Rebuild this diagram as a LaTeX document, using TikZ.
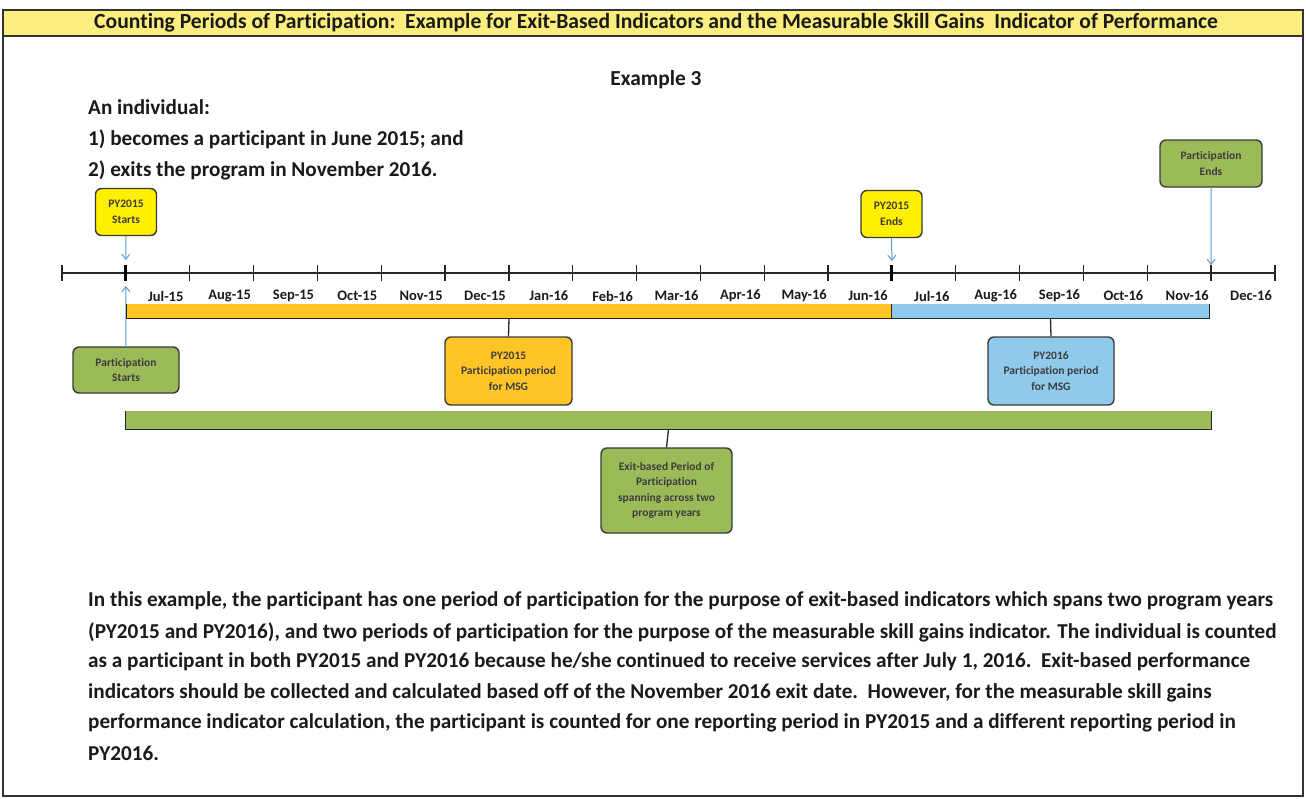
\documentclass[tikz,border=0pt]{standalone}
\usepackage{fontspec}
\setmainfont{Carlito}[Ligatures=NoCommon]
\usetikzlibrary{arrows.meta,calc}
\definecolor{titlefill}{HTML}{FCEE7E}
\definecolor{pyyellow}{HTML}{FFF000}
\definecolor{gold}{HTML}{FFC426}
\definecolor{skyblue}{HTML}{8FCAEA}
\definecolor{olive}{HTML}{9BBB59}
\definecolor{arrowblue}{HTML}{5B9BD5}
\definecolor{boxline}{HTML}{3A3A3A}
\definecolor{txt}{HTML}{1A1A1A}
\tikzset{
  lbl/.style={font=\fontsize{11.5}{15.5}\selectfont\bfseries, text=txt!85, align=center},
  rbox/.style={lbl, draw=boxline, line width=1.4pt, rounded corners=6pt, inner sep=2pt},
  month/.style={font=\fontsize{14.5}{16}\selectfont\bfseries, text=txt, inner sep=0pt},
  body/.style={font=\fontsize{21.2}{24}\selectfont\bfseries, text=txt, inner sep=0pt, anchor=west},
  bar/.style={inner sep=0pt, draw=none},
  brk/.style={draw=black!85, line width=1.3pt},
  arr/.style={draw=arrowblue, line width=1pt, -{Straight Barb[length=5pt,width=8pt]}},
}
\begin{document}
\begin{tikzpicture}[x=1pt,y=-1pt]
\useasboundingbox (0,0) rectangle (1306,798);
% frame and title bar
\fill[titlefill] (3,10) rectangle (1303,36);
\draw[line width=1.6pt, draw=black!80] (3,10) rectangle (1303,796);
\draw[line width=1.4pt, draw=black!80] (3,36) -- (1303,36);
\node[font=\fontsize{21.6}{22}\selectfont\bfseries, text=txt, inner sep=0pt] (title) at (656,23)
  {Counting Periods of Participation:\ \ Example for Exit-Based Indicators and the Measurable Skill Gains\ \ Indicator of Performance};
% intro text
\node[font=\fontsize{21.4}{24}\selectfont\bfseries, text=txt, inner sep=0pt] (ex) at (656,80) {Example 3};
\node[body] (i1) at (88,107) {An individual:};
\node[body] (i2) at (88,139) {1) becomes a participant in June 2015; and};
\node[body] (i3) at (88,170) {2) exits the program in November 2016.};
% timeline
\foreach \i in {0,...,19} {
  \coordinate (t\i) at ({62+\i*63.84},273);
}
\draw[line width=1.5pt, black!85] (t0) -- (t19);
\foreach \i in {0,...,19} {
  \draw[line width=1.3pt, black!85] ([yshift=8pt]t\i) -- ([yshift=-8pt]t\i);
}
\draw[line width=3pt, black] ([yshift=8pt]t1) -- ([yshift=-8pt]t1);
\draw[line width=3pt, black] ([yshift=8pt]t13) -- ([yshift=-8pt]t13);
\foreach \m [count=\i] in {Jul-15,Aug-15,Sep-15,Oct-15,Nov-15,Dec-15,Jan-16,Feb-16,Mar-16,Apr-16,May-16,Jun-16,Jul-16,Aug-16,Sep-16,Oct-16,Nov-16,Dec-16} {
  \node[month] (m\i) at ({62+(\i+0.5)*63.84+8},296) {\m};
}
% top boxes
\node[rbox, fill=pyyellow, minimum width=61pt, minimum height=47pt] (pys) at (126,212) {PY2015\\Starts};
\node[rbox, fill=pyyellow, minimum width=61pt, minimum height=47pt] (pye) at (891.5,214) {PY2015\\Ends};
\node[rbox, fill=olive, minimum width=102pt, minimum height=47pt] (pend) at (1211,163.5) {Participation\\Ends};
\draw[arr] (pys.south) -- ([yshift=13pt]t1);
\draw[arr] (pye.south) -- ([yshift=12pt]t13);
\draw[arr] (pend.south) -- ([yshift=8pt]t18);
% participation starts
\node[rbox, fill=olive, minimum width=106pt, minimum height=46pt] (pst) at (126,370) {Participation\\Starts};
\draw[arr] (pst.north) -- ([yshift=-13pt]t1);
% bars
\node[bar, fill=gold, minimum width=764pt, minimum height=14pt] (yb) at (509,311) {};
\node[bar, fill=skyblue, minimum width=318pt, minimum height=14pt] (bb) at (1050.5,311) {};
\node[bar, fill=olive, minimum width=1085pt, minimum height=18pt] (gb) at (668.5,420) {};
\draw[brk] (yb.north west) -- (yb.south west) -- (yb.south east) -- (yb.north east);
\draw[brk] (bb.north west) -- (bb.south west) -- (bb.south east) -- (bb.north east);
\draw[brk] (gb.north west) -- (gb.south west) -- (gb.south east) -- (gb.north east);
% period boxes
\node[rbox, fill=gold, minimum width=127pt, minimum height=68pt] (msg15) at (508.5,371) {PY2015\\Participation period\\for MSG};
\node[rbox, fill=skyblue, minimum width=126pt, minimum height=68pt] (msg16) at (1051,371) {PY2016\\Participation period\\for MSG};
\node[rbox, fill=olive, minimum width=131pt, minimum height=85pt] (exb) at (666.5,490.5) {Exit-based Period of\\Participation\\spanning across two\\program years};
\draw[brk] (yb.south) -- (msg15.north);
\draw[brk] (bb.south) -- (msg16.north);
\draw[brk] (gb.south) -- (exb.north);
% paragraph
\node[body] (p1) at (88,601) {In this example, the participant has one period of participation for the purpose of exit-based indicators which spans two program years};
\node[body] (p2) at (88,632) {(PY2015 and PY2016), and two periods of participation for the purpose of the measurable skill gains indicator. The individual is counted};
\node[body] (p3) at (88,662) {as a participant in both PY2015 and PY2016 because he/she continued to receive services after July 1, 2016.\ \ Exit-based performance};
\node[body] (p4) at (88,693) {indicators should be collected and calculated based off of the November 2016 exit date.\ \ However, for the measurable skill gains};
\node[body] (p5) at (88,723) {performance indicator calculation, the participant is counted for one reporting period in PY2015 and a different reporting period in};
\node[body] (p6) at (88,753) {PY2016.};
\end{tikzpicture}
\end{document}
